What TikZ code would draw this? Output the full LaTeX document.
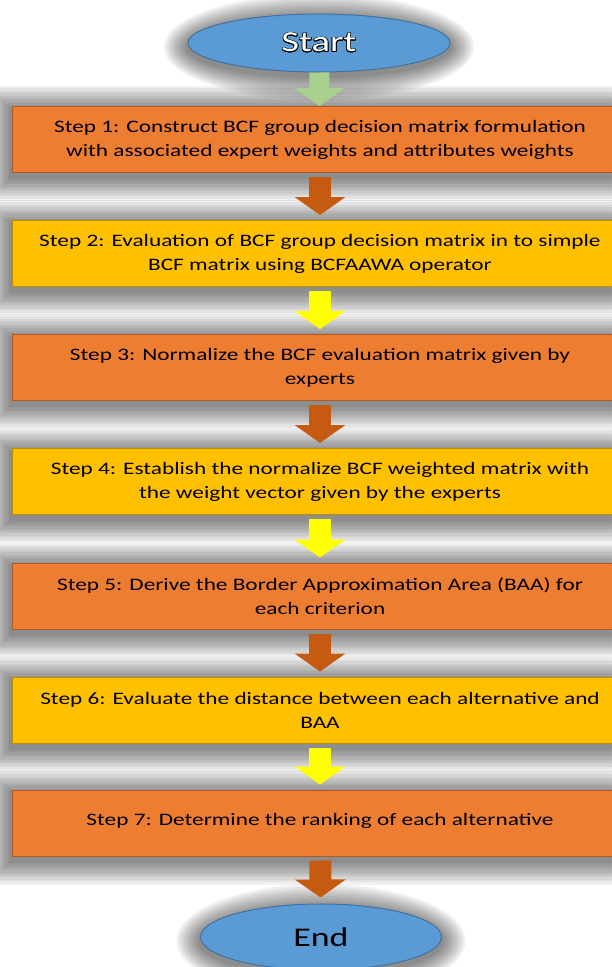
\documentclass[tikz,border=0pt]{standalone}
\usepackage{fontspec}
\setmainfont[FakeStretch=1.33]{Carlito}
\usepackage[copies]{contour}
\contourlength{0.7pt}
\usetikzlibrary{arrows.meta,shapes.geometric,backgrounds}
\definecolor{steporange}{HTML}{ED7D31}
\definecolor{steporangeline}{HTML}{AE5A21}
\definecolor{stepyellow}{HTML}{FFC000}
\definecolor{stepyellowline}{HTML}{BC8C00}
\definecolor{termblue}{HTML}{5B9BD5}
\definecolor{termblueline}{HTML}{41719C}
\definecolor{arrowgreen}{HTML}{A9D18E}
\definecolor{arroworange}{HTML}{C55A11}
\definecolor{arrowyellow}{HTML}{FFFF00}

\begin{document}
\begin{tikzpicture}[x=1pt,y=-1pt,
    every node/.style={font=\fontsize{17.5}{24}\selectfont},
    stepbox/.style={draw,line width=1pt,minimum width=616pt,minimum height=66pt,align=center,inner sep=0pt},
    orangestep/.style={stepbox,fill=steporange,draw=steporangeline},
    yellowstep/.style={stepbox,fill=stepyellow,draw=stepyellowline},
    terminal/.style={ellipse,draw=termblueline,fill=termblue,line width=1pt,inner sep=0pt},
    flow/.style={line width=22pt,-{Triangle[length=18pt,width=50pt]}},
    haze/.style={fill=black,opacity=0.055},
]
\useasboundingbox (0,0) rectangle (611,967);

% Start / end terminals
\node[terminal,minimum width=262pt,minimum height=58pt,text=white,font=\fontsize{29}{29}\selectfont] (start) at (319,43) {\contour{black}{Start}};
\node[terminal,minimum width=241pt,minimum height=66pt,font=\fontsize{27}{27}\selectfont] (end) at (321,937) {End};

% --- Steps, alternating orange / yellow
\node[orangestep] (s1) at (320,139.5) {Step 1: Construct BCF group decision matrix formulation\\with associated expert weights and attributes weights};
\node[yellowstep] (s2) at (320,253.5) {Step 2: Evaluation of BCF group decision matrix in to simple\\BCF matrix using BCFAAWA operator};
\node[orangestep] (s3) at (320,367.5) {Step 3: Normalize the BCF evaluation matrix given by\\experts};
\node[yellowstep] (s4) at (320,481.5) {Step 4: Establish the normalize BCF weighted matrix with\\the weight vector given by the experts};
\node[orangestep] (s5) at (320,596) {Step 5: Derive the Border Approximation Area (BAA) for\\each criterion};
\node[yellowstep] (s6) at (320,710) {Step 6: Evaluate the distance between each alternative and\\BAA};
\node[orangestep] (s7) at (320,823) {\raisebox{7pt}{Step 7: Determine the ranking of each alternative}};

% --- Block arrows between the steps
\draw[flow,arrowgreen,line width=20pt] (start) -- (s1);
\draw[flow,arroworange,shorten <=4pt,shorten >=5pt] (s1) -- (s2);
\draw[flow,arrowyellow,shorten <=4pt,shorten >=5pt] (s2) -- (s3);
\draw[flow,arroworange,shorten <=4pt,shorten >=5pt] (s3) -- (s4);
\draw[flow,arrowyellow,shorten <=4pt,shorten >=5pt] (s4) -- (s5);
\draw[flow,arroworange,shorten <=4pt,shorten >=5pt] (s5) -- (s6);
\draw[flow,arrowyellow,shorten <=4pt,shorten >=5pt] (s6) -- (s7);
\draw[flow,arroworange,shorten <=4pt,shorten >=6pt] (s7) -- (end);

% --- Soft grey shadow behind everything
\begin{scope}[on background layer]
\fill[white] (0,0) rectangle (611,967);
\foreach \n in {s1,s2,s3,s4,s5,s6,s7}
  \foreach \k in {1,...,10}
    \fill[haze] ([shift={(-\k*2.4pt,\k*2.4pt-4pt)}]\n.north west) rectangle ([shift={(\k*2.4pt,-\k*2.4pt-4pt)}]\n.south east);
\foreach \k in {1,...,10} {
  \fill[haze] ([yshift=-4pt]start.center) ellipse [x radius=131pt+\k*2.4pt,y radius=29pt+\k*2.4pt];
  \fill[haze] ([yshift=-4pt]end.center) ellipse [x radius=120.5pt+\k*2.4pt,y radius=33pt+\k*2.4pt];
}
\end{scope}
\end{tikzpicture}
\end{document}
